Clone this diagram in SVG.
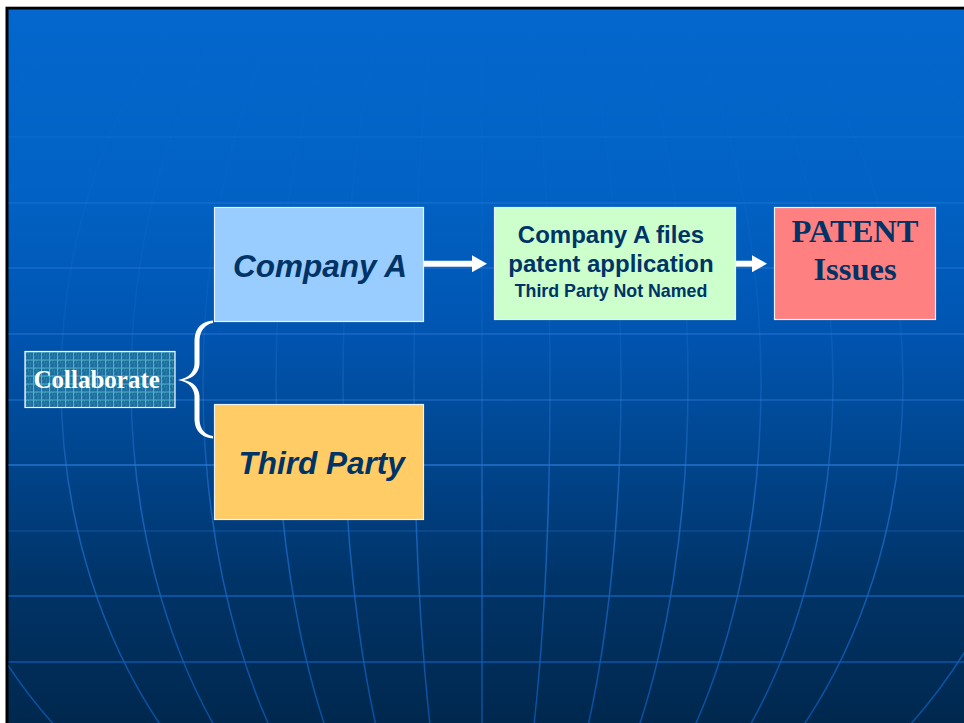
<svg xmlns="http://www.w3.org/2000/svg" width="964" height="723" viewBox="0 0 964 723">
<defs>
  <linearGradient id="bg" x1="0" y1="0" x2="0" y2="1">
    <stop offset="0" stop-color="#0467CD"/>
    <stop offset="0.25" stop-color="#0262C5"/>
    <stop offset="0.45" stop-color="#0055B1"/>
    <stop offset="0.62" stop-color="#00468F"/>
    <stop offset="0.8" stop-color="#003468"/>
    <stop offset="1" stop-color="#00284E"/>
  </linearGradient>
  <linearGradient id="gh" gradientUnits="userSpaceOnUse" x1="0" y1="0" x2="0" y2="723">
    <stop offset="0" stop-color="#3d8de6" stop-opacity="0.1"/>
    <stop offset="0.2" stop-color="#3d8de6" stop-opacity="0.15"/>
    <stop offset="0.3" stop-color="#3d8de6" stop-opacity="0.3"/>
    <stop offset="0.55" stop-color="#2a7ad8" stop-opacity="0.55"/>
    <stop offset="0.68" stop-color="#1f6fcf" stop-opacity="0.8"/>
    <stop offset="1" stop-color="#0a52a8" stop-opacity="0.9"/>
  </linearGradient>
  <linearGradient id="gm" gradientUnits="userSpaceOnUse" x1="0" y1="0" x2="0" y2="723">
    <stop offset="0" stop-color="#3d8de6" stop-opacity="0"/>
    <stop offset="0.22" stop-color="#3d8de6" stop-opacity="0.03"/>
    <stop offset="0.45" stop-color="#3d8de6" stop-opacity="0.12"/>
    <stop offset="0.6" stop-color="#2a7ad8" stop-opacity="0.4"/>
    <stop offset="0.7" stop-color="#1f6fcf" stop-opacity="0.75"/>
    <stop offset="1" stop-color="#0a52a8" stop-opacity="0.9"/>
  </linearGradient>
  <clipPath id="slide"><rect x="8.5" y="9.5" width="956" height="714"/></clipPath>
  <pattern id="weave" x="25" y="351.5" width="8" height="8" patternUnits="userSpaceOnUse">
    <rect width="8" height="8" fill="#1E6E9E"/>
    <rect x="1" y="1" width="1" height="1" fill="#3590B8"/>
    <rect x="3" y="3" width="1" height="1" fill="#3590B8"/>
    <rect x="5" y="5" width="1" height="1" fill="#3590B8"/>
    <rect x="3" y="1" width="1" height="1" fill="#3590B8"/>
    <rect x="5" y="3" width="1" height="1" fill="#3590B8"/>
    <rect x="1" y="5" width="1" height="1" fill="#3590B8"/>
    <rect x="0" y="0" width="8" height="1" fill="#4FB2C8"/>
    <rect x="0" y="0" width="1" height="8" fill="#4FB2C8"/>
  </pattern>
  <marker id="ah" markerUnits="userSpaceOnUse" viewBox="0 0 15 17" markerWidth="15" markerHeight="17" refX="0" refY="8.5" orient="auto">
    <path d="M0,0 L15,8.5 L0,17 Z" fill="#FFFFFF"/>
  </marker>
</defs>
<style>
  .hl{fill:none;stroke:url(#gh);stroke-width:1.5}
  .mer{fill:none;stroke:url(#gm);stroke-width:1.5}
  .box{stroke:#EAF2FF;stroke-width:1.2}
  .sans{font-family:"Liberation Sans",Arial,sans-serif;font-weight:bold;fill:#003366;text-anchor:middle}
  .serif{font-family:"Liberation Serif","Times New Roman",serif;font-weight:bold;text-anchor:middle}
  .conn{stroke:#FFFFFF;stroke-width:6;fill:none}
</style>

<rect x="0" y="0" width="964" height="723" fill="#FFFFFF"/>
<rect x="5.5" y="6.7" width="960" height="720" fill="#000000"/>
<rect x="8.5" y="9.5" width="956" height="714" fill="url(#bg)"/>

<g id="background-grid" clip-path="url(#slide)">
  <line class="hl" x1="8" y1="137" x2="964" y2="137"/>
  <line class="hl" x1="8" y1="203" x2="964" y2="203"/>
  <line class="hl" x1="8" y1="268" x2="964" y2="268"/>
  <line class="hl" x1="8" y1="334" x2="964" y2="334"/>
  <line class="hl" x1="8" y1="400" x2="964" y2="400"/>
  <line class="hl" x1="8" y1="465" x2="964" y2="465" style="stroke-width:2"/>
  <line class="hl" x1="8" y1="531" x2="964" y2="531" opacity="0.45"/>
  <line class="hl" x1="8" y1="596" x2="964" y2="596"/>
  <line class="hl" x1="8" y1="662" x2="964" y2="662"/>
  <line class="mer" x1="482" y1="-150" x2="482" y2="723"/>
  <ellipse class="mer" cx="482" cy="383" rx="68" ry="530"/>
  <ellipse class="mer" cx="482" cy="383" rx="139" ry="530"/>
  <ellipse class="mer" cx="482" cy="383" rx="206" ry="530"/>
  <ellipse class="mer" cx="482" cy="383" rx="279" ry="530"/>
  <ellipse class="mer" cx="482" cy="383" rx="351" ry="530"/>
  <ellipse class="mer" cx="482" cy="383" rx="421" ry="530"/>
  <ellipse class="mer" cx="482" cy="383" rx="560" ry="530"/>
</g>

<g id="connectors">
  <line class="conn" x1="423.5" y1="263.7" x2="472" y2="263.7" marker-end="url(#ah)"/>
  <line class="conn" x1="735.5" y1="263.7" x2="752" y2="263.7" marker-end="url(#ah)"/>
  <path id="brace" fill="#FFFFFF" d="M213,320.5 C203,321 195,327 194.5,340 L194.5,364 C194,372 189,378 178,380 C189,382 194,388 194.5,396 L194.5,420 C195,432 203,438 213,438.5 L213,436 C206,435 200,430 199.5,420 L199.5,396 C199,388 194,382 184,380 C194,378 199,372 199.5,364 L199.5,340 C200,330 206,324 213,323 Z"/>
</g>

<g id="node-company-a">
  <rect class="box" x="214.5" y="207.5" width="209" height="114" fill="#99CCFF"/>
  <text class="sans" x="320" y="276.7" font-size="31.5" font-style="italic">Company A</text>
</g>

<g id="node-third-party">
  <rect class="box" x="214.5" y="404.5" width="209" height="115" fill="#FFCC66"/>
  <text class="sans" x="321.7" y="474" font-size="31.5" font-style="italic">Third Party</text>
</g>

<g id="node-collaborate">
  <rect x="25" y="351.5" width="150" height="56" fill="url(#weave)" stroke="#FFFFFF" stroke-width="1.2"/>
  <text class="serif" x="96.7" y="388.3" font-size="25" fill="#FFFFFF">Collaborate</text>
</g>

<g id="node-files">
  <rect class="box" x="494.5" y="207.5" width="241" height="112" fill="#CCFFCC"/>
  <text class="sans" x="611" y="243.3" font-size="24">Company A files</text>
  <text class="sans" x="611" y="272.3" font-size="24">patent application</text>
  <text class="sans" x="611" y="297.3" font-size="17.8">Third Party Not Named</text>
</g>

<g id="node-patent">
  <rect class="box" x="774.5" y="207.5" width="161" height="112" fill="#FF8080"/>
  <text class="serif" x="855" y="241.7" font-size="32.5" fill="#003366">PATENT</text>
  <text class="serif" x="855" y="280" font-size="32.5" fill="#003366">Issues</text>
</g>
</svg>
